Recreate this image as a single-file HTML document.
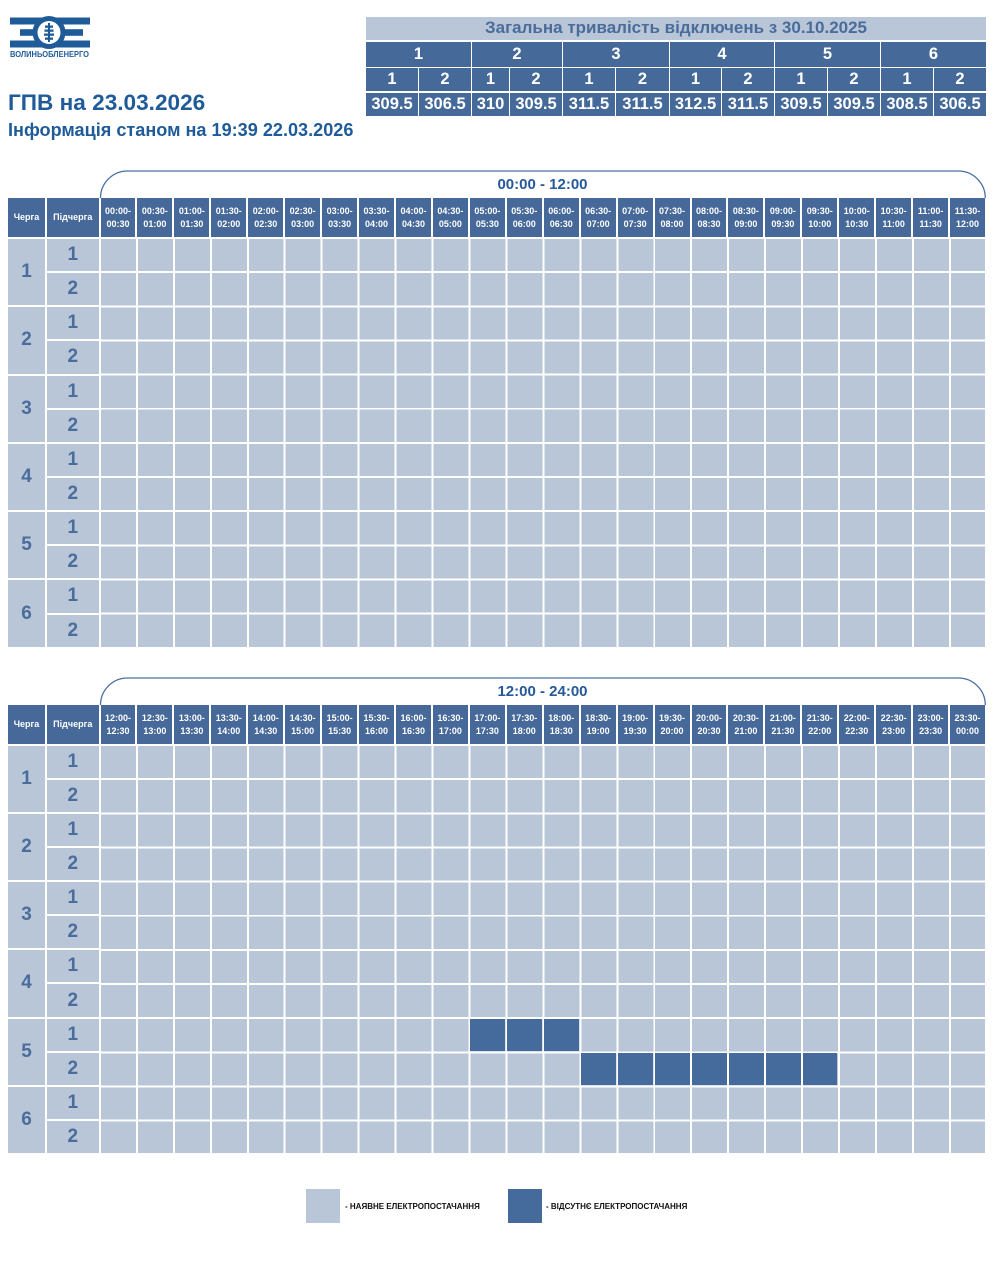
<!DOCTYPE html>
<html><head><meta charset="utf-8">
<style>
*{margin:0;padding:0;box-sizing:border-box}
html,body{width:995px;height:1280px;background:#fff;overflow:hidden;font-family:"Liberation Sans","Noto Sans CJK SC",sans-serif}
.abs{position:absolute}
.tt{position:absolute;left:366px;top:16.5px;display:grid;grid-template-columns:52px 52px 37px 52px 52px 53px 51px 52px 52px 52px 52px 52px;grid-template-rows:23.5px 25px 23px 23.5px;column-gap:1px;row-gap:1.5px}
.tt div{background:#456a9a;color:#fff;font-weight:bold;display:flex;align-items:center;justify-content:center;font-size:16.5px}
.tt .ttl{grid-column:span 12;background:#b8c6d7;color:#4a6c9b;font-size:17px}
.tt .g{grid-column:span 2;font-size:16.5px}
.hdr{position:absolute;left:8px;display:grid;grid-template-columns:37px 51.5px repeat(24,34.95px);column-gap:2px;height:39px}
.hdr div{background:#46699a;color:#fff;font-weight:bold;font-size:9px;line-height:12.5px;display:flex;align-items:center;justify-content:center;text-align:center}
.lc{position:absolute;left:8px;display:grid;grid-template-columns:37px 51.5px;grid-template-rows:repeat(12,32.15px);gap:2px}
.lc div{background:#b8c6d8;color:#4a6d9c;font-weight:bold;font-size:19px;display:flex;align-items:center;justify-content:center}
.lc .q{grid-row:span 2}
.cells{position:absolute;left:100.5px;width:884.8px;height:407.8px;background:repeating-linear-gradient(90deg,rgba(255,255,255,0) 0,rgba(255,255,255,0) 34.95px,#fff 34.95px,#fff 36.95px),repeating-linear-gradient(180deg,rgba(255,255,255,0) 0,rgba(255,255,255,0) 32.15px,#fff 32.15px,#fff 34.15px),#b8c6d8}
.d{position:absolute;width:34.95px;height:32.15px;background:#456b9c}
.ttl2{position:absolute;left:100px;width:885px;text-align:center;color:#25599a;font-weight:bold;font-size:15px}
.leg{position:absolute;font-size:8px;font-weight:bold;color:#111;white-space:nowrap}
</style></head><body>

<svg class="abs" style="left:0;top:0" width="100" height="62" viewBox="0 0 100 62">
<rect x="10" y="17.5" width="80" height="7" fill="#1f5b99"/>
<rect x="20" y="29.2" width="63" height="6.6" fill="#1f5b99"/>
<rect x="10" y="40.5" width="80" height="7" fill="#1f5b99"/>
<circle cx="49" cy="32.5" r="16.5" fill="#1f5b99"/>
<circle cx="49" cy="32.5" r="11.5" fill="#fff"/>
<rect x="48" y="23" width="2" height="19" fill="#1f5b99"/>
<rect x="45" y="25.5" width="8" height="2.3" fill="#1f5b99"/>
<rect x="44.5" y="29.5" width="9" height="2.3" fill="#1f5b99"/>
<rect x="44" y="33.5" width="10" height="2.3" fill="#1f5b99"/>
<rect x="45" y="37.5" width="8" height="2.3" fill="#1f5b99"/>
<text x="10" y="57" font-family="Liberation Sans, sans-serif" font-weight="bold" font-size="8" fill="#1f5b99" textLength="79" lengthAdjust="spacingAndGlyphs">ВОЛИНЬОБЛЕНЕРГО</text>
</svg>

<div class="abs" style="left:8px;top:90px;font-size:22.6px;font-weight:bold;color:#1f5b99;white-space:nowrap">ГПВ на 23.03.2026</div>
<div class="abs" style="left:8px;top:120px;font-size:18.1px;font-weight:bold;color:#1f5b99;white-space:nowrap">Інформація станом на 19:39 22.03.2026</div>

<div class="tt">
<div class="ttl">Загальна тривалість відключень з 30.10.2025</div>
<div class="g">1</div><div class="g">2</div><div class="g">3</div><div class="g">4</div><div class="g">5</div><div class="g">6</div>
<div>1</div><div>2</div><div>1</div><div>2</div><div>1</div><div>2</div><div>1</div><div>2</div><div>1</div><div>2</div><div>1</div><div>2</div>
<div>309.5</div><div>306.5</div><div>310</div><div>309.5</div><div>311.5</div><div>311.5</div><div>312.5</div><div>311.5</div><div>309.5</div><div>309.5</div><div>308.5</div><div>306.5</div>
</div>

<!-- TABLE 1 -->
<svg class="abs" style="left:0;top:160px" width="995" height="45" viewBox="0 160 995 45">
<path d="M100.5 198 A27 27 0 0 1 127.5 171 L958.3 171 A27 27 0 0 1 985.3 198" fill="none" stroke="#4a6f9f" stroke-width="1.3"/>
</svg>
<div class="ttl2" style="top:176px">00:00 - 12:00</div>
<div class="hdr" style="top:198px">
<div>Черга</div><div>Підчерга</div>
<div>00:00-<br>00:30</div><div>00:30-<br>01:00</div><div>01:00-<br>01:30</div><div>01:30-<br>02:00</div><div>02:00-<br>02:30</div><div>02:30-<br>03:00</div><div>03:00-<br>03:30</div><div>03:30-<br>04:00</div><div>04:00-<br>04:30</div><div>04:30-<br>05:00</div><div>05:00-<br>05:30</div><div>05:30-<br>06:00</div><div>06:00-<br>06:30</div><div>06:30-<br>07:00</div><div>07:00-<br>07:30</div><div>07:30-<br>08:00</div><div>08:00-<br>08:30</div><div>08:30-<br>09:00</div><div>09:00-<br>09:30</div><div>09:30-<br>10:00</div><div>10:00-<br>10:30</div><div>10:30-<br>11:00</div><div>11:00-<br>11:30</div><div>11:30-<br>12:00</div>
</div>
<div class="lc" style="top:239px">
<div class="q">1</div><div>1</div><div>2</div>
<div class="q">2</div><div>1</div><div>2</div>
<div class="q">3</div><div>1</div><div>2</div>
<div class="q">4</div><div>1</div><div>2</div>
<div class="q">5</div><div>1</div><div>2</div>
<div class="q">6</div><div>1</div><div>2</div>
</div>
<div class="cells" style="top:239px"></div>

<!-- TABLE 2 -->
<svg class="abs" style="left:0;top:667px" width="995" height="45" viewBox="0 667 995 45">
<path d="M100.5 705 A27 27 0 0 1 127.5 678 L958.3 678 A27 27 0 0 1 985.3 705" fill="none" stroke="#4a6f9f" stroke-width="1.3"/>
</svg>
<div class="ttl2" style="top:683px">12:00 - 24:00</div>
<div class="hdr" style="top:705px">
<div>Черга</div><div>Підчерга</div>
<div>12:00-<br>12:30</div><div>12:30-<br>13:00</div><div>13:00-<br>13:30</div><div>13:30-<br>14:00</div><div>14:00-<br>14:30</div><div>14:30-<br>15:00</div><div>15:00-<br>15:30</div><div>15:30-<br>16:00</div><div>16:00-<br>16:30</div><div>16:30-<br>17:00</div><div>17:00-<br>17:30</div><div>17:30-<br>18:00</div><div>18:00-<br>18:30</div><div>18:30-<br>19:00</div><div>19:00-<br>19:30</div><div>19:30-<br>20:00</div><div>20:00-<br>20:30</div><div>20:30-<br>21:00</div><div>21:00-<br>21:30</div><div>21:30-<br>22:00</div><div>22:00-<br>22:30</div><div>22:30-<br>23:00</div><div>23:00-<br>23:30</div><div>23:30-<br>00:00</div>
</div>
<div class="lc" style="top:745.5px">
<div class="q">1</div><div>1</div><div>2</div>
<div class="q">2</div><div>1</div><div>2</div>
<div class="q">3</div><div>1</div><div>2</div>
<div class="q">4</div><div>1</div><div>2</div>
<div class="q">5</div><div>1</div><div>2</div>
<div class="q">6</div><div>1</div><div>2</div>
</div>
<div class="cells" style="top:745.5px">
<div class="d" style="left:369.5px;top:273.2px"></div>
<div class="d" style="left:406.45px;top:273.2px"></div>
<div class="d" style="left:443.4px;top:273.2px"></div>
<div class="d" style="left:480.35px;top:307.35px"></div>
<div class="d" style="left:517.3px;top:307.35px"></div>
<div class="d" style="left:554.25px;top:307.35px"></div>
<div class="d" style="left:591.2px;top:307.35px"></div>
<div class="d" style="left:628.15px;top:307.35px"></div>
<div class="d" style="left:665.1px;top:307.35px"></div>
<div class="d" style="left:702.05px;top:307.35px"></div>
</div>

<!-- LEGEND -->
<div class="abs" style="left:306px;top:1189px;width:34px;height:34px;background:#b8c6d8"></div>
<div class="leg" style="left:345px;top:1201.5px">- НАЯВНЕ ЕЛЕКТРОПОСТАЧАННЯ</div>
<div class="abs" style="left:508px;top:1189px;width:34px;height:34px;background:#456b9c"></div>
<div class="leg" style="left:546px;top:1201.5px">- ВІДСУТНЄ ЕЛЕКТРОПОСТАЧАННЯ</div>

</body></html>
